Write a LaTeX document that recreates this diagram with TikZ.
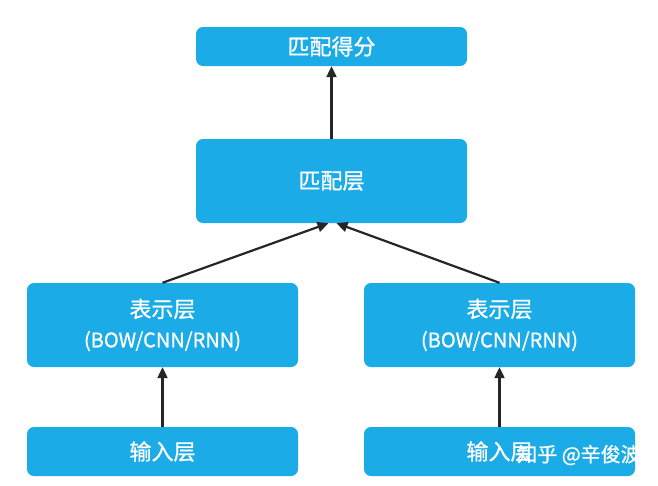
\documentclass[tikz,border=0pt]{standalone}
\usepackage{fontspec}
\setmainfont{Noto Sans CJK SC}
\newfontfamily\layerfont{Noto Sans CJK SC}[FakeBold=0.9]
\usetikzlibrary{arrows.meta, positioning}
\definecolor{boxblue}{RGB}{27, 171, 230}
\newcommand{\netsize}{\fontsize{20}{29}\selectfont}

\begin{document}
\begin{tikzpicture}[x=1pt, y=-1pt,
    layer/.style={rectangle, rounded corners=7pt, fill=boxblue, text=white, inner sep=0pt,
      minimum width=271pt, align=center, font=\layerfont\fontsize{22}{30}\selectfont},
    up/.style={-{Triangle[length=11pt, width=10pt]}, line width=2.2pt, black!85}
  ]
    \fill[white] (0,0) rectangle (658,485);
    \useasboundingbox (0,0) rectangle (658,485);
    % score
    \node[layer, minimum height=39pt] (score) at (331.5,46.5) {匹配得分};
    % matching
    \node[layer, minimum height=84pt] (match) at (331.5,181) {匹配层};
    % representation
    \node[layer, minimum height=84pt] (repl) at (162.5,325) {表示层\\{\netsize (BOW/CNN/RNN)}};
    \node[layer, minimum height=84pt] (repr) at (499.5,325) {表示层\\{\netsize (BOW/CNN/RNN)}};
    % input
    \node[layer, minimum height=49pt] (inl) at (162.5,451.5) {输入层};
    \node[layer, minimum height=49pt] (inr) at (499.5,451.5) {输入层};
    % arrows
    \draw[up] (match.north) -- (score.south);
    \draw[up] (repl.north) -- ([xshift=-3pt]match.south);
    \draw[up] (repr.north) -- ([xshift=5pt]match.south);
    \draw[up] (inl.north) -- (repl.south);
    \draw[up] (inr.north) -- (repr.south);
    % watermark
    \node[font=\layerfont\fontsize{20}{24}\selectfont, text=white, inner sep=0pt] (mark) at (579,455) {知乎 @辛俊波};
  \end{tikzpicture}
\end{document}
